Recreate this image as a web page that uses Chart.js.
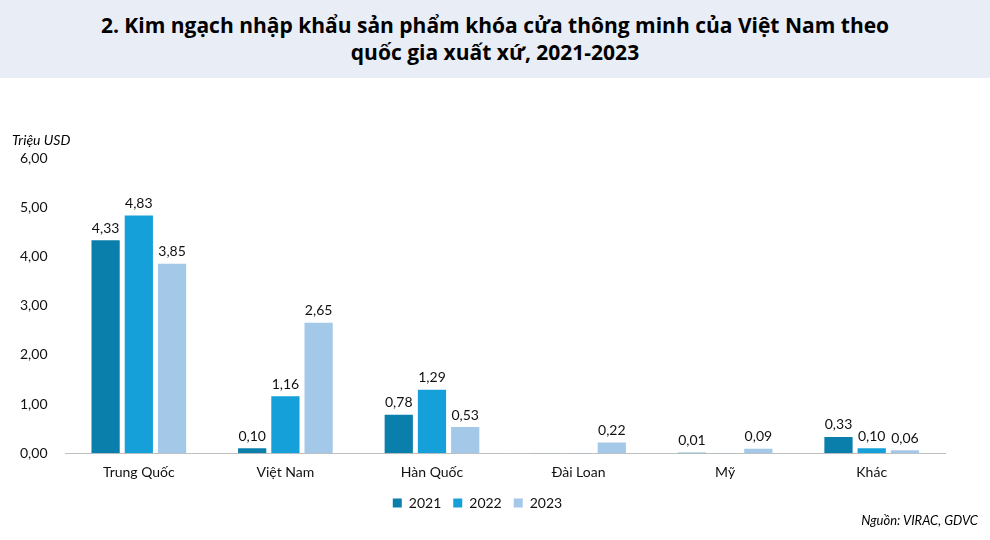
<!DOCTYPE html>
<html><head><meta charset="utf-8">
<script src="https://cdn.jsdelivr.net/npm/chart.js@4"></script>
<style>
body{margin:0;width:990px;height:540px;background:#fff;font-family:Lato,"Open Sans",sans-serif;position:relative;overflow:hidden}
#title{height:78px;background:#e9edf6;display:flex;align-items:center;justify-content:center;text-align:center;font-weight:bold;font-size:21px;line-height:27px;color:#000;font-family:"Open Sans",sans-serif}
#wrap{position:absolute;left:0;top:78px;width:990px;height:462px}
#unit{position:absolute;left:12px;top:131px;font-style:italic;font-size:14px}
#src{position:absolute;right:12px;top:512px;font-style:italic;font-size:13px}
</style></head><body>
<div id="title">2. Kim ngạch nhập khẩu sản phẩm khóa cửa thông minh của Việt Nam theo<br>quốc gia xuất xứ, 2021-2023</div>
<div id="wrap"><canvas id="c"></canvas></div>
<div id="unit">Triệu USD</div>
<div id="src">Nguồn: VIRAC, GDVC</div>
<script>
const categories = ['Trung Quốc', 'Việt Nam', 'Hàn Quốc', 'Đài Loan', 'Mỹ', 'Khác'];
const years = ['2021', '2022', '2023'];
const v2021 = [4.33, 0.10, 0.78, 0.004, 0.01, 0.33];
const v2022 = [4.83, 1.16, 1.29, 0.004, 0.004, 0.10];
const v2023 = [3.85, 2.65, 0.53, 0.22, 0.09, 0.06];
const colors = ['#0b7fab', '#16a0d9', '#a4c8e7'];

const fmt = v => v.toFixed(2).replace('.', ',');

const valueLabels = {
	id: 'valueLabels',
	afterDatasetsDraw(chart) {
		const ctx = chart.ctx;
		ctx.save();
		ctx.font = '14px Lato, sans-serif';
		ctx.fillStyle = '#111';
		ctx.textAlign = 'center';
		ctx.textBaseline = 'bottom';
		chart.data.datasets.forEach((ds, i) => {
			chart.getDatasetMeta(i).data.forEach((bar, j) => {
				if (ds.data[j] < 0.01) return;
				ctx.fillText(fmt(ds.data[j]), bar.x, bar.y - 5);
			});
		});
		ctx.restore();
	}
};

new Chart(document.getElementById('c'), {
	type: 'bar',
	data: {
		labels: categories,
		datasets: [v2021, v2022, v2023].map((d, i) => ({
			label: years[i], data: d, backgroundColor: colors[i],
			categoryPercentage: 0.68, barPercentage: 0.85
		}))
	},
	options: {
		animation: false,
		responsive: true,
		maintainAspectRatio: false,
		layout: { padding: { top: 80, right: 45, left: 10, bottom: 20 } },
		plugins: {
			legend: {
				position: 'bottom',
				labels: { boxWidth: 9, boxHeight: 9, color: '#111', font: { size: 14, family: 'Lato' }, padding: 12 }
			},
			tooltip: { enabled: false }
		},
		scales: {
			x: {
				grid: { display: false },
				border: { color: '#bfbfbf' },
				ticks: { color: '#111', font: { size: 14, family: 'Lato' } }
			},
			y: {
				min: 0, max: 6,
				grid: { display: false },
				border: { display: false },
				ticks: { stepSize: 1, color: '#111', font: { size: 14, family: 'Lato' }, callback: v => fmt(v), padding: 10 }
			}
		}
	},
	plugins: [valueLabels]
});
</script>
</body></html>
